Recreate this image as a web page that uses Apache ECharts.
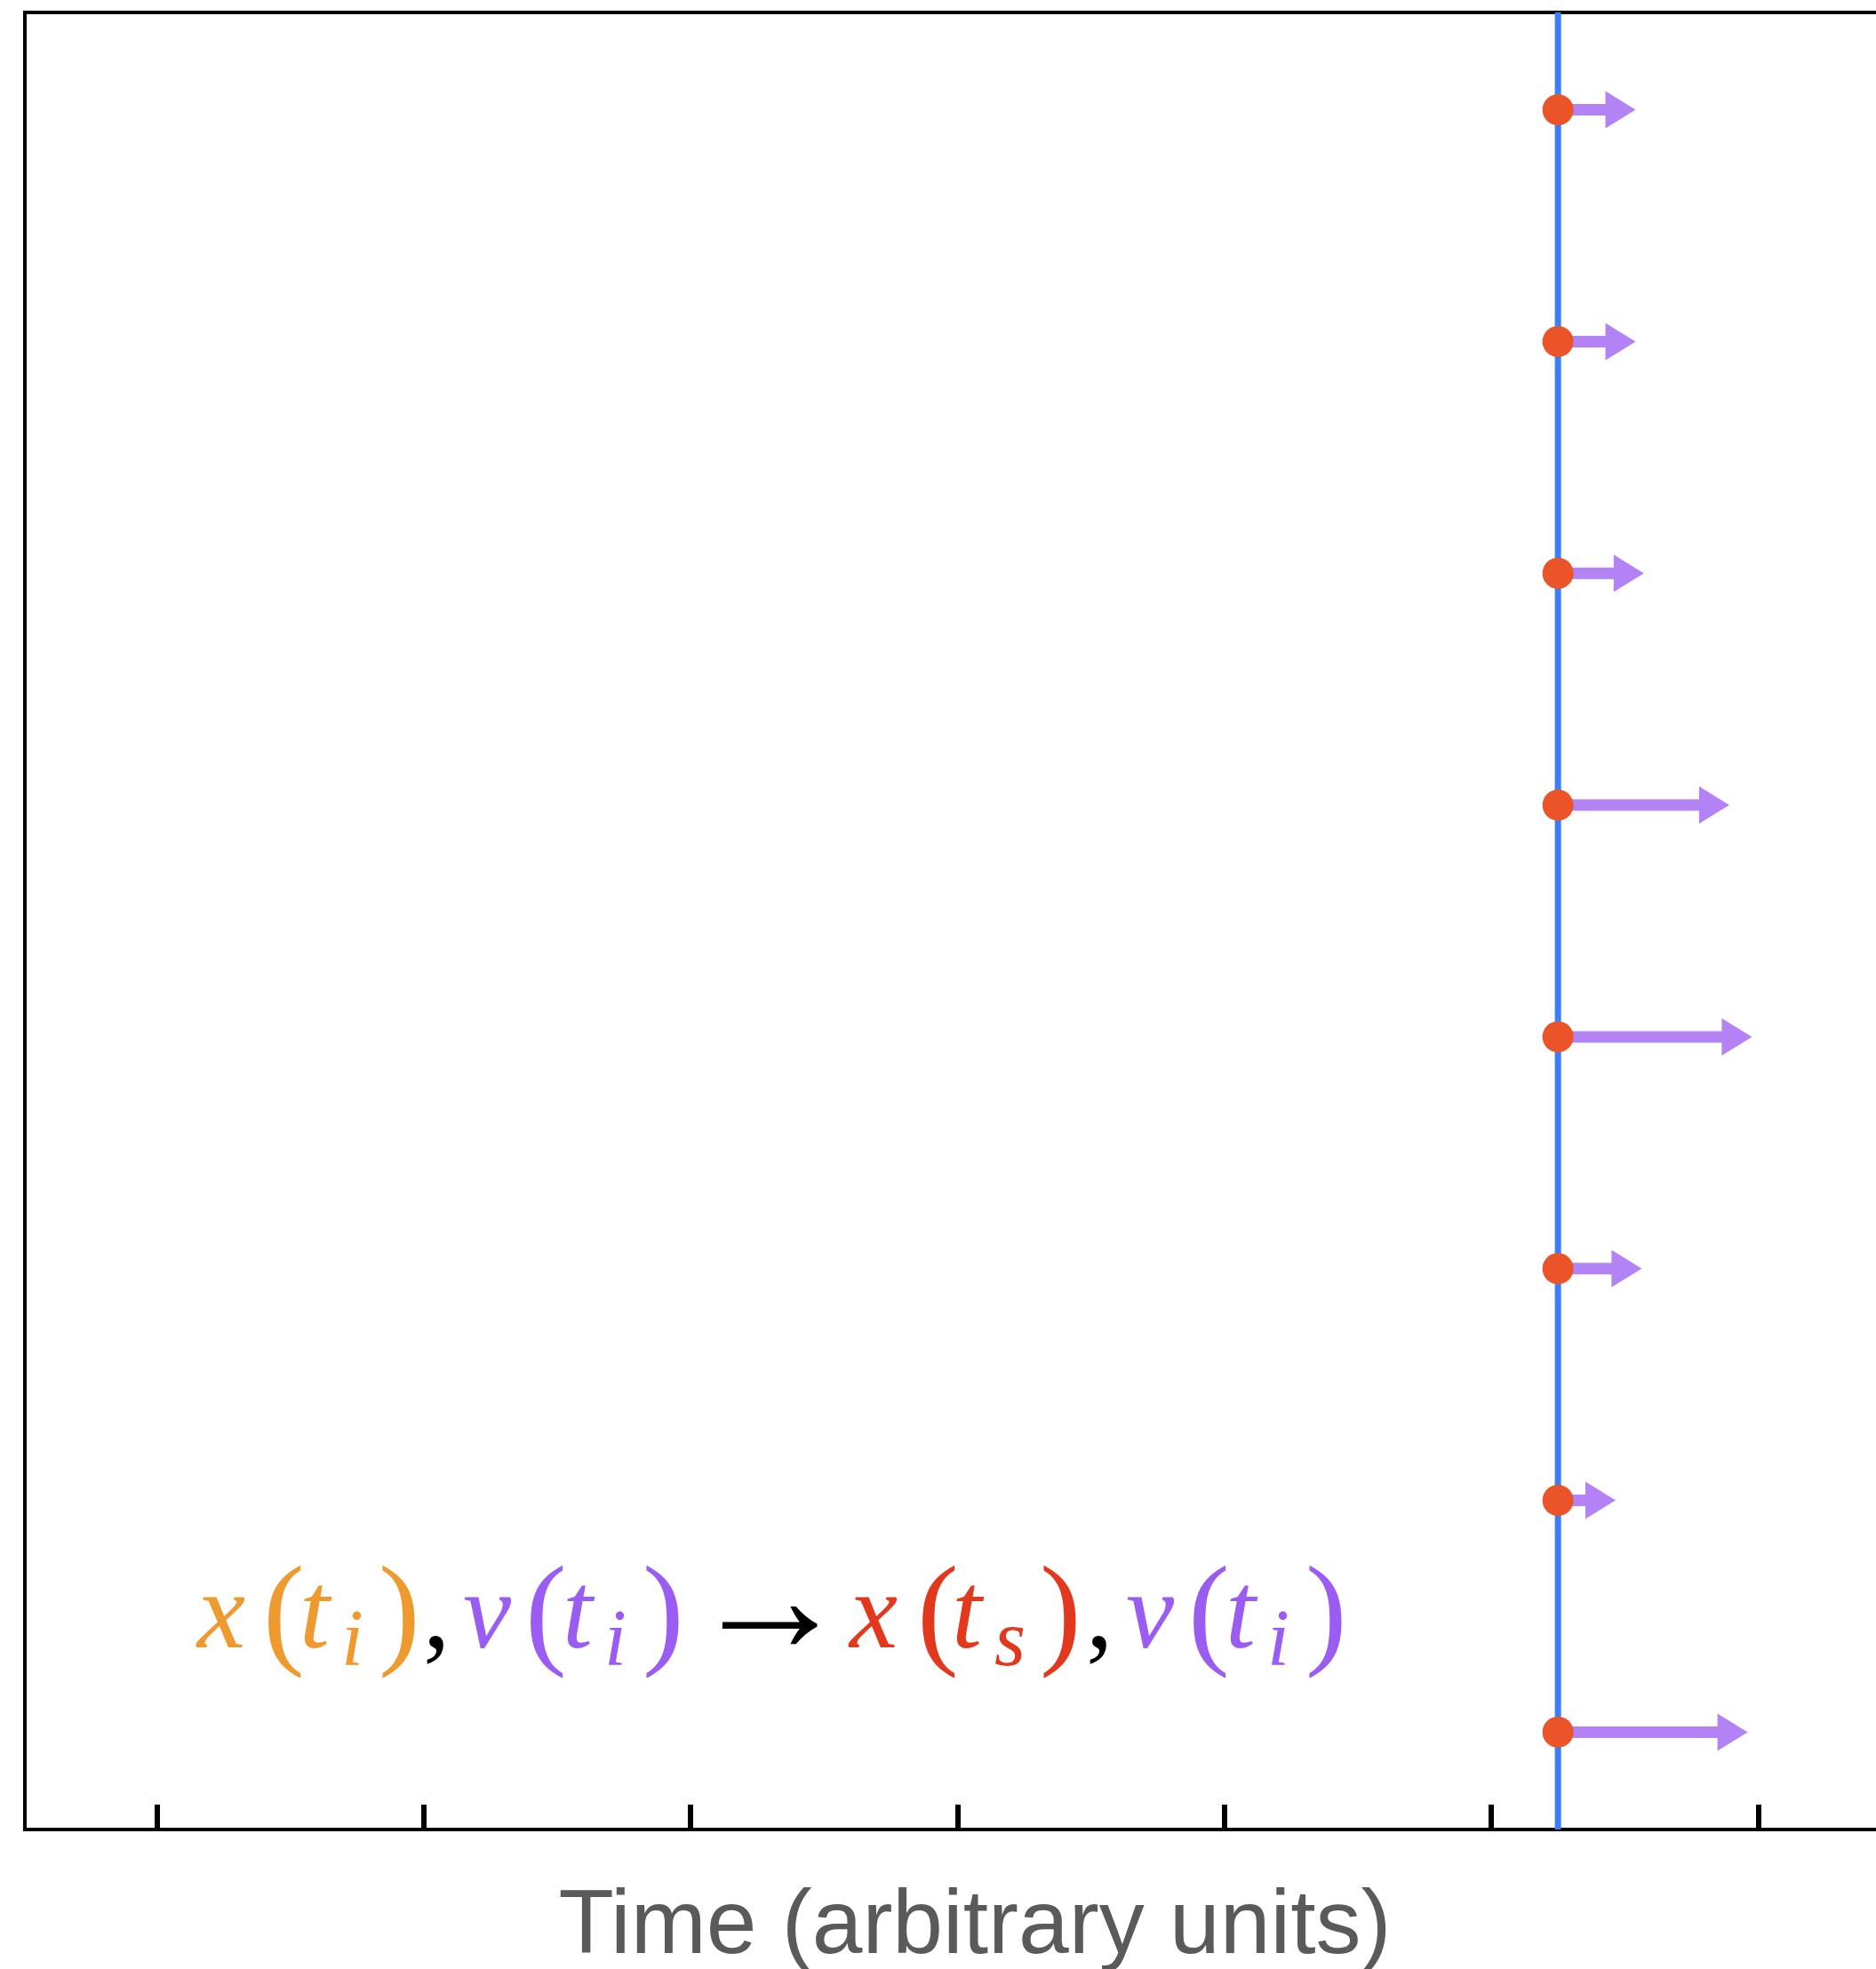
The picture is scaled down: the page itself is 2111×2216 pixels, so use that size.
<!DOCTYPE html>
<html><head><meta charset="utf-8">
<script src="https://cdn.jsdelivr.net/npm/echarts@6/dist/echarts.min.js"></script>
<style>html,body{margin:0;padding:0;overflow:hidden;background:#fff;width:2111px;height:2216px}#c{width:2200px;height:2216px}</style>
</head><body><div id="c"></div>
<script>
// ---- data ----
const particleY = [8, 7, 6, 5, 4, 3, 2, 1];
const velocities = [0.291, 0.291, 0.322, 0.642, 0.727, 0.314, 0.216, 0.711];
const sampleTime = 5.25;
const tickValues = [0, 1, 2, 3, 4, 5, 6];
const xRange = [-0.495, 6.625];
const yRange = [0.58, 8.42];
const axisTitle = 'Time (arbitrary units)';

const C_ORANGE = '#EE9A2E', C_PURPLE = '#9B5CF2', C_RED = '#E2391E';
const MAIN = 122, SUB = 90;
const serifI = {fontFamily: 'Liberation Serif', fontStyle: 'italic', fontWeight: 'normal', fontSize: MAIN, verticalAlign: 'middle'};
const serifU = {fontFamily: 'Liberation Serif', fontStyle: 'normal', fontWeight: 'normal', fontSize: 140, verticalAlign: 'middle'};
const subSt = {fontFamily: 'Liberation Serif', fontStyle: 'italic', fontWeight: 'normal', fontSize: SUB, verticalAlign: 'middle', padding: [56, 0, 0, 0]};
function st(base, color, width, extra) { return Object.assign({}, base, {color: color, width: width}, extra || {}); }
const rich = {
  ox: st(serifI, C_ORANGE, 74), op: st(serifU, C_ORANGE, 41), ot: st(serifI, C_ORANGE, 47), os: st(subSt, C_ORANGE, 42), oc: st(serifU, C_ORANGE, 50),
  cm: st(serifU, '#000', 45, {fontSize: MAIN}),
  pv: st(serifI, C_PURPLE, 70), pp: st(serifU, C_PURPLE, 42), pt: st(serifI, C_PURPLE, 47), ps: st(subSt, C_PURPLE, 43), pc: st(serifU, C_PURPLE, 53), pe: st(serifU, C_PURPLE, 40),
  ar: st(serifU, '#000', 180, {fontSize: 180, padding: [0, 0, 20, 0]}),
  rx: st(serifI, C_RED, 76), rp: st(serifU, C_RED, 39), rt: st(serifI, C_RED, 48), rs: st(subSt, C_RED, 51), rc: st(serifU, C_RED, 52)
};
const formula = '{ox|x}{op|(}{ot|t}{os|i}{oc|)}{cm|,}{pv|v}{pp|(}{pt|t}{ps|i}{pc|)}{ar|\u2192}{rx|x}{rp|(}{rt|t}{rs|s}{rc|)}{cm|,}{pv|v}{pp|(}{pt|t}{ps|i}{pe|)}';

const chart = echarts.init(document.getElementById('c'), null, {renderer: 'canvas'});

function renderArrow(params, api) {
  const t = api.value(0), y = api.value(1), v = api.value(2);
  const p0 = api.coord([t, y]);
  const p1 = api.coord([t + v, y]);
  const headLen = 34, headHalf = 21, shaftHalf = 6.5;
  const bx = p1[0] - headLen;
  return {
    type: 'group',
    children: [
      {type: 'rect', shape: {x: p0[0], y: p0[1] - shaftHalf, width: bx - p0[0] + 1, height: shaftHalf * 2}, style: {fill: '#B383F5'}},
      {type: 'polygon', shape: {points: [[bx, p0[1] - headHalf], [p1[0], p0[1]], [bx, p0[1] + headHalf]]}, style: {fill: '#B383F5'}}
    ]
  };
}

chart.setOption({
  animation: false,
  backgroundColor: '#fff',
  title: {text: formula, left: 222, top: 1722, padding: 0, textStyle: {fontWeight: 'normal', rich: rich}},
  grid: {left: 28, top: 14, width: 2138, height: 2045, outerBoundsMode: 'none', containLabel: false, show: true, borderColor: '#000', borderWidth: 4, backgroundColor: 'transparent'},
  xAxis: {
    type: 'value', min: xRange[0], max: xRange[1],
    axisLine: {show: true, onZero: false, lineStyle: {color: '#000', width: 4}},
    axisTick: {show: true, inside: true, length: 28, customValues: tickValues, lineStyle: {color: '#000', width: 6}},
    axisLabel: {show: false},
    splitLine: {show: false},
    name: axisTitle, nameLocation: 'middle', nameGap: 60,
    nameTextStyle: {fontSize: 102, color: '#5a5a5a', fontFamily: 'Liberation Sans'}
  },
  yAxis: {
    type: 'value', min: yRange[0], max: yRange[1],
    axisLine: {show: false},
    axisTick: {show: false}, axisLabel: {show: false}, splitLine: {show: false}
  },
  series: [
    {type: 'line', z: 1, data: [[sampleTime, yRange[0]], [sampleTime, yRange[1]]], symbol: 'none', lineStyle: {color: '#3B7EF5', width: 7}, silent: true},
    {type: 'custom', z: 2, renderItem: renderArrow, data: particleY.map((y, i) => [sampleTime, y, velocities[i]]), silent: true},
    {type: 'scatter', z: 3, data: particleY.map(y => [sampleTime, y]), symbolSize: 35, itemStyle: {color: '#EA5428', opacity: 1}, silent: true}
  ]
});
</script></body></html>
